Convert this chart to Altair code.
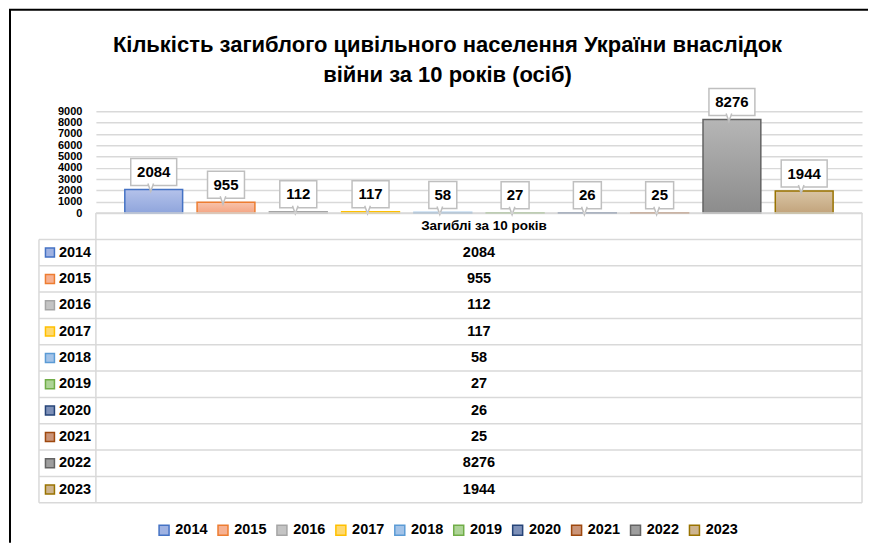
import altair as alt
import pandas as pd

# ---------------- data ----------------
years = ["2014", "2015", "2016", "2017", "2018", "2019", "2020", "2021", "2022", "2023"]
deaths = [2084, 955, 112, 117, 58, 27, 26, 25, 8276, 1944]
series_name = "Загиблі за 10 років"
title_lines = [
    "Кількість загиблого цивільного населення України внаслідок",
    "війни за 10 років (осіб)",
]
y_ticks = [0, 1000, 2000, 3000, 4000, 5000, 6000, 7000, 8000, 9000]

# ---------------- styles ----------------
line_colors = ["#4472C4", "#ED7D31", "#A5A5A5", "#FFC000", "#5B9BD5",
               "#70AD47", "#264478", "#9E480E", "#636363", "#997300"]
fill_top = ["#b4c2ea", "#f8c3ab", "#d4d4d4", "#ffe08a", "#b3cdec",
            "#bcdba8", "#8ea0c4", "#d3a58a", "#b6b6b6", "#d9c4a4"]
fill_bottom = ["#8fa5dc", "#f4a583", "#bdbdbd", "#ffd256", "#92b8e3",
               "#a1cd86", "#6a80ad", "#c18466", "#8c8c8c", "#c2a47c"]
fill_flat = ["#9fb2e2", "#f6b192", "#c4c4c4", "#ffd970", "#a3c3e8",
             "#aed497", "#7d90b8", "#ca9478", "#9e9e9e", "#cdb48f"]

FONT = "Liberation Sans"
W, HB, HT = 767, 102, 290
GRID = "#d9d9d9"

df = pd.DataFrame({"year": years, "deaths": deaths})
df["row"] = list(range(1, len(years) + 1))

xs = alt.Scale(domain=years, paddingInner=0.2, paddingOuter=0.4)
ys = alt.Scale(domain=[0, 9000], nice=False)
axis_y = alt.Axis(values=y_ticks, format="d", title=None, labelFont=FONT, labelFontSize=11,
                  labelFontWeight="bold", labelColor="#000", labelPadding=14,
                  ticks=False, domain=False, grid=True, gridColor=GRID,
                  gridWidth=1.5, labelOverlap=False, labelFlush=False)
X = alt.X("year:N", scale=xs, axis=None, sort=years)
Y = alt.Y("deaths:Q", scale=ys, axis=axis_y)

one = pd.DataFrame({"k": [0]})

# ---------------- top chart: bars ----------------
layers = []
# frame lines (black border of the picture)
layers.append(alt.Chart(one).mark_rule(color="#000", strokeWidth=2).encode(
    x=alt.value(-86), y=alt.value(-101.5), y2=alt.value(HB)))
layers.append(alt.Chart(one).mark_rule(color="#000", strokeWidth=2).encode(
    x=alt.value(-87), x2=alt.value(773), y=alt.value(-101.5)))

for i, yr in enumerate(years):
    grad = alt.LinearGradient(
        gradient="linear",
        stops=[alt.GradientStop(color=fill_top[i], offset=0),
               alt.GradientStop(color=fill_bottom[i], offset=1)],
        x1=0, x2=0, y1=0, y2=1)
    layers.append(
        alt.Chart(df).transform_filter(alt.datum.year == yr)
        .mark_bar(fill=grad, stroke=line_colors[i], strokeWidth=1.5)
        .encode(x=X, y=Y)
    )

# callout boxes
layers.append(
    alt.Chart(df)
    .transform_calculate(bw="length(toString(datum.deaths)) * 9 + 10")
    .mark_bar(fill="white", stroke="#bfbfbf", strokeWidth=1.5, yOffset=-31, y2Offset=-4)
    .encode(x=X, y=Y, y2=alt.Y2("deaths:Q"), size=alt.Size("bw:Q", scale=None, legend=None))
)
# callout pointers
layers.append(
    alt.Chart(df)
    .mark_point(shape="M-0.7,-1L0,1L0.7,-1", filled=True, fill="white", opacity=1,
                stroke="#bfbfbf", strokeWidth=1.5, size=64, yOffset=-2, xOffset=-3)
    .encode(x=X, y=Y)
)
# label text
layers.append(
    alt.Chart(df)
    .mark_text(font=FONT, fontSize=15, fontWeight="bold", color="#000", dy=-17.5,
               baseline="middle")
    .encode(x=X, y=Y, text="deaths:N")
)
# title
layers.append(alt.Chart(pd.DataFrame({"t": [title_lines[0]]})).mark_text(
    font=FONT, fontSize=22, fontWeight="bold", color="#000", align="center",
    baseline="alphabetic").encode(text="t:N", x=alt.value(352), y=alt.value(-59)))
layers.append(alt.Chart(pd.DataFrame({"t": [title_lines[1]]})).mark_text(
    font=FONT, fontSize=22, fontWeight="bold", color="#000", align="center",
    baseline="alphabetic").encode(text="t:N", x=alt.value(352), y=alt.value(-29)))

top = alt.layer(*layers).properties(width=W, height=HB)

# ---------------- bottom chart: data table ----------------
rows_y = alt.Scale(domain=[0, len(years) + 1], reverse=True, nice=False, zero=False)
bounds_df = pd.DataFrame({"b": list(range(1, len(years) + 2))})
tbl = []
tbl.append(alt.Chart(bounds_df).mark_rule(color=GRID, strokeWidth=1.5).encode(
    y=alt.Y("b:Q", scale=rows_y, axis=None), x=alt.value(-57), x2=alt.value(W)))
tbl.append(alt.Chart(one).mark_rule(color=GRID, strokeWidth=1.5).encode(
    y=alt.Y(datum=0, scale=rows_y, axis=None), x=alt.value(0), x2=alt.value(W)))
for xv, y0 in [(-57, 1), (0, 0), (W, 0)]:
    tbl.append(alt.Chart(one).mark_rule(color=GRID, strokeWidth=1.5).encode(
        x=alt.value(xv), y=alt.Y(datum=y0, scale=rows_y, axis=None),
        y2=alt.Y2(datum=len(years) + 1)))
# left frame continuation
tbl.append(alt.Chart(one).mark_rule(color="#000", strokeWidth=2).encode(
    x=alt.value(-86), y=alt.value(0), y2=alt.value(330)))

tbl.append(alt.Chart(pd.DataFrame({"t": [series_name]})).mark_text(
    font=FONT, fontSize=13.5, fontWeight="bold", color="#000", baseline="middle").encode(
    text="t:N", x=alt.value(W / 2 + 5), y=alt.Y(datum=0.5, scale=rows_y, axis=None)))

RC = alt.Y("rc:Q", scale=rows_y, axis=None)
tbl.append(alt.Chart(df).transform_calculate(rc="datum.row + 0.5").mark_text(
    font=FONT, fontSize=14.5, fontWeight="bold", color="#000", baseline="middle").encode(
    text="deaths:N", x=alt.value(W / 2), y=RC))
tbl.append(alt.Chart(df).transform_calculate(rc="datum.row + 0.5").mark_text(
    font=FONT, fontSize=14.5, fontWeight="bold", color="#000", baseline="middle",
    align="left").encode(text="year:N", x=alt.value(-37), y=RC))

leg = alt.Legend(orient="none", legendX=61, legendY=412, direction="horizontal",
                 columns=10, title=None, symbolType="square", symbolSize=100,
                 symbolStrokeWidth=1.5, symbolOpacity=1, labelFont=FONT,
                 labelFontSize=14.5, labelFontWeight="bold", labelColor="#000",
                 labelOffset=4, columnPadding=7)
tbl.append(alt.Chart(df).transform_calculate(rc="datum.row + 0.5").mark_point(
    shape="square", filled=True, size=81, strokeWidth=1.5, opacity=1).encode(
    x=alt.value(-46), y=RC,
    fill=alt.Fill("year:N", scale=alt.Scale(domain=years, range=fill_flat), legend=leg),
    stroke=alt.Stroke("year:N", scale=alt.Scale(domain=years, range=line_colors), legend=leg)))

table = alt.layer(*tbl).properties(width=W, height=HT)

chart = alt.vconcat(top, table, spacing=0, bounds="flush").properties(
    padding=0, background="white"
).configure_view(stroke=None)

chart.save("out.html", embed_options={"renderer": "svg", "actions": False})
